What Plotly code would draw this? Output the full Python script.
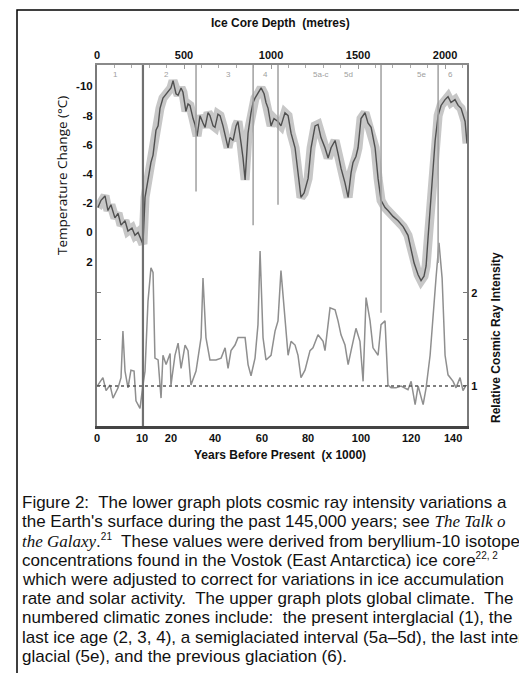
import plotly.graph_objects as go

# ---------------- data ----------------
temp_depth = [5, 23, 46, 63, 80, 103, 121, 138, 161, 178, 201, 218, 236, 253, 264,
              276, 293, 310, 322, 339, 351, 362, 379, 397, 408, 425, 437, 454, 466, 483,
              494, 511, 523, 534, 552, 563, 575, 592, 609, 621, 638, 649, 667, 678, 695,
              707, 724, 736, 753, 764, 782, 799, 810, 828, 839, 851, 868, 885, 897, 908,
              925, 943, 960, 971, 983, 1000, 1017, 1040, 1057, 1080, 1098, 1115, 1138, 1155, 1172,
              1190, 1213, 1230, 1253, 1270, 1287, 1310, 1328, 1345, 1368, 1385, 1402, 1425, 1443, 1460,
              1471, 1488, 1500, 1517, 1540, 1557, 1575, 1598, 1615, 1632, 1655, 1672, 1701, 1730, 1759,
              1787, 1805, 1822, 1845, 1862, 1879, 1891, 1902, 1920, 1931, 1943, 1960, 1977, 2000, 2017,
              2034, 2057, 2075, 2092, 2115, 2126]
temp_change = [-1.7, -2.2, -2.5, -1.5, -1.9, -1.0, -1.3, -0.5, -0.8, -0.1, -0.3, 0.2, 0.0, 0.5, 0.8,
               -2.4, -3.7, -4.8, -5.3, -7.0, -7.3, -8.5, -9.2, -9.5, -9.7, -9.9, -10.4, -9.5, -9.4, -9.9,
               -9.6, -8.3, -8.8, -8.7, -7.8, -7.4, -6.6, -8.0, -7.5, -7.2, -8.2, -8.0, -7.3, -7.2, -8.1,
               -8.0, -7.3, -6.7, -5.8, -6.5, -6.3, -7.3, -7.6, -6.1, -5.1, -3.6, -6.8, -8.2, -8.9, -9.2,
               -9.5, -9.9, -9.5, -8.9, -8.5, -7.3, -7.8, -7.6, -7.3, -8.2, -8.0, -6.8, -5.8, -4.1, -2.4,
               -2.7, -3.7, -5.8, -7.3, -7.4, -6.5, -5.8, -5.1, -5.8, -6.3, -5.4, -4.4, -3.4, -2.4, -4.1,
               -4.8, -5.2, -5.8, -7.8, -8.2, -7.5, -7.2, -5.8, -3.7, -2.2, -1.7, -1.5, -1.1, -0.8, -0.4,
               0.2, 1.1, 2.1, 2.9, 3.3, 3.0, 2.3, 0.4, -2.8, -4.4, -6.3, -8.0, -8.7, -9.1, -9.3,
               -8.9, -9.1, -8.7, -8.5, -7.6, -6.1]

cr_depth = [5, 34, 52, 75, 92, 121, 138, 149, 161, 178, 195, 213, 224, 247, 264,
            276, 293, 310, 322, 333, 351, 368, 379, 397, 420, 425, 448, 466, 483, 506,
            523, 540, 569, 598, 609, 626, 649, 684, 713, 736, 753, 770, 793, 810, 828,
            851, 868, 885, 908, 925, 937, 954, 971, 1000, 1023, 1040, 1057, 1080, 1098, 1115,
            1138, 1155, 1172, 1195, 1224, 1241, 1270, 1299, 1310, 1339, 1368, 1385, 1402, 1425, 1443,
            1460, 1488, 1511, 1529, 1546, 1569, 1586, 1615, 1632, 1655, 1672, 1690, 1718, 1747, 1787,
            1805, 1828, 1845, 1874, 1891, 1914, 1931, 1948, 1965, 1983, 2000, 2017, 2046, 2063, 2086,
            2103, 2121]
cr_intensity = [1.01, 1.09, 0.95, 1.01, 0.87, 0.98, 1.09, 1.59, 1.16, 0.98, 1.17, 1.16, 0.84, 0.76, 1.01,
                1.16, 1.91, 2.27, 2.22, 1.30, 1.28, 0.87, 1.33, 1.23, 1.35, 1.01, 1.33, 1.46, 1.19, 1.44,
                1.38, 1.01, 1.16, 1.52, 2.16, 1.52, 1.28, 1.28, 1.30, 1.41, 1.19, 1.38, 1.44, 1.52, 1.52,
                1.52, 1.23, 1.11, 1.30, 1.66, 2.45, 1.52, 1.28, 1.33, 1.59, 1.70, 2.24, 1.70, 1.33, 1.48,
                1.44, 1.33, 1.09, 1.17, 1.38, 1.41, 1.55, 1.48, 1.38, 1.84, 1.82, 1.70, 1.55, 1.44, 1.23,
                1.38, 1.62, 1.48, 1.05, 1.95, 1.70, 1.41, 1.33, 1.66, 1.70, 1.01, 0.98, 0.98, 1.00, 0.96,
                1.05, 0.80, 1.00, 0.80, 0.98, 1.33, 1.70, 2.16, 2.54, 2.16, 1.33, 1.12, 1.05, 0.98, 1.09,
                0.95, 1.01]

depth_ticks = [0, 500, 1000, 1500, 2000]
year_labels = ["0", "10", "20", "40", "60", "80", "100", "120", "140"]
year_tick_depth = [0, 259, 425, 678, 948, 1213, 1517, 1805, 2046]
temp_ticks = [-10, -8, -6, -4, -2, 0, 2]
cr_ticks = [1, 2]
cr_minor_ticks = [1.5]

zone_depth = [264, 569, 897, 1040, 1632, 1960]
zone_end_temp = [13.3, -2.8, -0.5, -1.9, 5.5, 2.1]
zone_labels = ["1", "2", "3", "4", "5a-c", "5d", "5e", "6"]
zone_label_depth = [109, 397, 753, 971, 1287, 1443, 1862, 2034]

SERIF_I = "<i><span style='font-family:Liberation Serif'>%s</span></i>"
SUP = "<sup><span style='font-size:10px'>%s</span></sup>"
caption_lines = [
    "Figure 2:  The lower graph plots cosmic ray intensity variations a",
    "the Earth's surface during the past 145,000 years; see " + SERIF_I % "The Talk o",
    SERIF_I % "the Galaxy" + "." + SUP % "21" + "  These values were derived from beryllium-10 isotope",
    "concentrations found in the Vostok (East Antarctica) ice core" + SUP % "22, 2",
    "which were adjusted to correct for variations in ice accumulation",
    "rate and solar activity.  The upper graph plots global climate.  The",
    "numbered climatic zones include:  the present interglacial (1), the",
    "last ice age (2, 3, 4), a semiglaciated interval (5a\u20135d), the last inter",
    "glacial (5e), and the previous glaciation (6).",
]

# ---------------- layout geometry (pixels) ----------------
W, H = 527, 673
L, R, T, B = 89, 459, 57, 418
DEPTH_MAX = 2126
TEMP_RANGE = [13.26, -11.47]
CR_RANGE = [0.57, 4.45]


def px(x):
    return (x - L) / (R - L)


def py(y):
    return (B - y) / (B - T)


fig = go.Figure()

# temperature band
fig.add_trace(go.Scatter(x=temp_depth, y=temp_change, mode="lines", xaxis="x", yaxis="y",
                         line=dict(color="rgba(90,90,90,0.34)", width=9), hoverinfo="skip",
                         showlegend=False))
fig.add_trace(go.Scatter(x=temp_depth, y=temp_change, mode="lines", xaxis="x", yaxis="y",
                         line=dict(color="rgba(40,40,40,0.75)", width=1.4), showlegend=False))
# cosmic ray
fig.add_trace(go.Scatter(x=cr_depth, y=cr_intensity, mode="lines", xaxis="x2", yaxis="y2",
                         line=dict(color="#8f8f8f", width=1.5), showlegend=False))

shapes = []
for d, te in zip(zone_depth, zone_end_temp):
    first = d == zone_depth[0]
    shapes.append(dict(type="line", xref="x", yref="y", x0=d, x1=d, y0=te, y1=TEMP_RANGE[1],
                       line=dict(color="#707070" if first else "#a0a0a0",
                                 width=2.2 if first else 1.5)))
# dotted baseline at intensity 1
shapes.append(dict(type="line", xref="x2", yref="y2", x0=0, x1=DEPTH_MAX, y0=1, y1=1,
                   line=dict(color="#555", width=1.6, dash="dot")))
# outer frame
shapes.append(dict(type="rect", xref="paper", yref="paper", x0=px(9), x1=px(524), y0=py(2), y1=py(680),
                   line=dict(color="black", width=1.5)))

annotations = []


def note(x, y, text, size, family="Liberation Sans", angle=0, xanchor="center", color="#111"):
    annotations.append(dict(x=px(x), y=py(y), xref="paper", yref="paper", text=text,
                            showarrow=False, textangle=angle, xanchor=xanchor, yanchor="middle",
                            font=dict(size=size, color=color, family=family)))


for lab, d in zip(zone_labels, zone_label_depth):
    annotations.append(dict(x=d, y=py(66), xref="x", yref="paper", text=lab, showarrow=False,
                            xanchor="center", yanchor="middle",
                            font=dict(size=8, color="#a0a0a0", family="Liberation Sans")))

note(272, 15, "<b>Ice Core Depth  (metres)</b>", 12)
note(272, 447, "<b>Years Before Present  (x 1000)</b>", 12)
note(54, 168, "Temperature Change (\u00b0C)", 13.5, family="Open Sans", angle=-90)
note(488, 330, "<b>Relative Cosmic Ray Intensity</b>", 12, angle=-90)

cap_y0, cap_dy = 494, 19.3
for i, line in enumerate(caption_lines):
    note(12, cap_y0 + i * cap_dy, line, 17, xanchor="left")

bold = lambda s: "<b>%s</b>" % s

fig.update_layout(
    width=W, height=H,
    margin=dict(l=L, r=W - R, t=T, b=H - B, pad=0),
    paper_bgcolor="white", plot_bgcolor="white",
    showlegend=False,
    xaxis=dict(range=[0, DEPTH_MAX], side="top", tickvals=depth_ticks,
               ticktext=[bold(v) for v in depth_ticks], ticks="inside", ticklen=4,
               tickcolor="#999", showline=True, linecolor="#8a8a8a", linewidth=2,
               showgrid=False, zeroline=False,
               minor=dict(ticks="inside", ticklen=3, dtick=100, tickcolor="#aaa"),
               tickfont=dict(size=11, color="#111", family="Liberation Sans")),
    xaxis2=dict(range=[0, DEPTH_MAX], overlaying="x", side="bottom", anchor="y2",
                tickvals=year_tick_depth, ticktext=[bold(v) for v in year_labels],
                ticks="", showline=True, linecolor="#444", linewidth=2.5,
                showgrid=False, zeroline=False,
                tickfont=dict(size=11, color="#111", family="Liberation Sans")),
    yaxis=dict(range=TEMP_RANGE, tickvals=temp_ticks, ticktext=[bold(v) for v in temp_ticks],
               ticks="", showline=True, linecolor="#9a9a9a", linewidth=2,
               showgrid=False, zeroline=False,
               tickfont=dict(size=11.5, color="#111", family="Liberation Sans")),
    yaxis2=dict(range=CR_RANGE, overlaying="y", side="right", anchor="x2",
                tickvals=cr_ticks, ticktext=[bold(v) for v in cr_ticks],
                ticks="inside", ticklen=4, tickcolor="#777", mirror="ticks",
                minor=dict(ticks="inside", ticklen=4, tickvals=cr_minor_ticks, tickcolor="#777"),
                showline=True, linecolor="#7a7a7a", linewidth=2,
                showgrid=False, zeroline=False,
                tickfont=dict(size=11, color="#111", family="Liberation Sans")),
    shapes=shapes,
    annotations=annotations,
)

fig.write_html("out.html")
